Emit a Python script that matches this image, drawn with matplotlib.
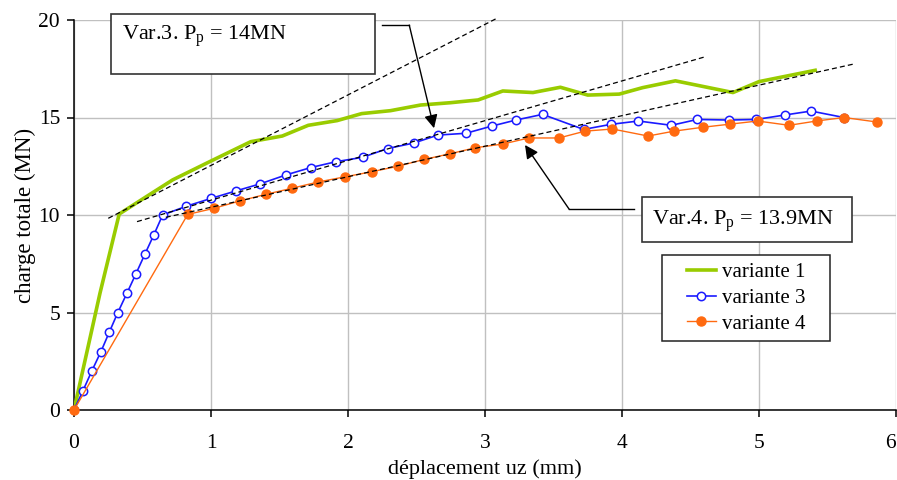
import matplotlib
matplotlib.use("Agg")
import matplotlib.pyplot as plt
from matplotlib.patches import Rectangle

plt.rcParams["font.family"] = ["Liberation Serif", "DejaVu Serif"]
plt.rcParams["mathtext.fontset"] = "custom"
plt.rcParams["mathtext.rm"] = "Liberation Serif"
plt.rcParams["mathtext.it"] = "Liberation Serif"

# variante 1
disp_v1 = [0, 0.19, 0.33, 0.53, 0.72, 0.98, 1.29, 1.52, 1.71, 1.92, 2.10, 2.31,
           2.53, 2.75, 2.95, 3.13, 3.35, 3.55, 3.75, 3.98, 4.15, 4.39, 4.81,
           5.0, 5.41]
load_v1 = [0, 6.0, 10.05, 10.95, 11.8, 12.7, 13.76, 14.05, 14.6, 14.84, 15.2,
           15.35, 15.64, 15.76, 15.9, 16.36, 16.28, 16.55, 16.15, 16.2, 16.53,
           16.88, 16.28, 16.84, 17.42]

# variante 3
disp_v3 = [0, 0.066, 0.13, 0.197, 0.258, 0.32, 0.387, 0.453, 0.518, 0.584,
           0.647, 0.82, 1.0, 1.18, 1.36, 1.545, 1.727, 1.91, 2.107, 2.29, 2.48,
           2.657, 2.86, 3.05, 3.226, 3.42, 3.72, 3.92, 4.12, 4.36, 4.55, 4.78,
           4.98, 5.19, 5.38, 5.62]
load_v3 = [0, 1, 2, 3, 4, 5, 6, 7, 8, 9, 10, 10.45, 10.85, 11.23, 11.6, 12.05,
           12.43, 12.73, 12.96, 13.41, 13.69, 14.1, 14.19, 14.56, 14.87, 15.16,
           14.39, 14.65, 14.82, 14.6, 14.9, 14.87, 14.9, 15.13, 15.33, 15.0]

# variante 4
disp_v4 = [0, 0.83, 1.02, 1.21, 1.40, 1.59, 1.78, 1.98, 2.175, 2.365, 2.555,
           2.745, 2.93, 3.13, 3.32, 3.54, 3.73, 3.93, 4.19, 4.38, 4.59, 4.79,
           4.99, 5.22, 5.42, 5.62, 5.86]
load_v4 = [0, 10.03, 10.34, 10.72, 11.06, 11.37, 11.69, 11.96, 12.22, 12.5,
           12.85, 13.14, 13.45, 13.64, 13.95, 13.95, 14.3, 14.41, 14.05, 14.3,
           14.5, 14.66, 14.82, 14.6, 14.82, 15.0, 14.77]

# tangent lines (start/end)
tangent_x = [[0.25, 3.09], [0.46, 4.6], [0.67, 5.69]]
tangent_y = [[9.83, 20.1], [9.66, 18.1], [9.88, 17.74]]

series_labels = ["variante 1", "variante 3", "variante 4"]
x_ticks = [0, 1, 2, 3, 4, 5, 6]
y_ticks = [0, 5, 10, 15, 20]
label_v3 = r"Var.3. P$_\mathregular{p}$ = 14MN"
label_v4 = r"Var.4. P$_\mathregular{p}$ = 13.9MN"

fig = plt.figure(figsize=(8.97, 4.8), dpi=100)
ax = fig.add_axes([74 / 897, 70 / 480, 822 / 897, 390 / 480])

ax.set_xlim(0, 6)
ax.set_ylim(0, 20)
ax.set_xticks(x_ticks)
ax.set_yticks(y_ticks)
ax.grid(True, color="#c0c0c0", linewidth=1)
ax.set_axisbelow(True)
for side in ["top", "right"]:
    ax.spines[side].set_visible(False)
for side in ["left", "bottom"]:
    ax.spines[side].set_linewidth(1.1)
ax.tick_params(axis="both", direction="out", length=5, width=1.1, labelsize=15.5)
ax.tick_params(axis="x", pad=12)
ax.tick_params(axis="y", pad=5)
# keep the last x label inside the figure
ax.get_xticklabels()[-1].set_horizontalalignment("right")

for tx, ty in zip(tangent_x, tangent_y):
    ax.plot(tx, ty, color="black", lw=0.9, linestyle=(0, (4, 2.5)), zorder=4,
            clip_on=False)

ax.plot(disp_v1, load_v1, color="#99cc00", lw=2.6, label=series_labels[0],
        zorder=3)
ax.plot(disp_v3, load_v3, color="#1a1aff", lw=1.2, marker="o",
        markersize=6, markerfacecolor="white", markeredgecolor="#1a1aff",
        markeredgewidth=1.1, label=series_labels[1], zorder=3)
ax.plot(disp_v4, load_v4, color="#ff6a10", lw=1.0, marker="o",
        markersize=6.5, markerfacecolor="#ff6a10", markeredgecolor="#ff6a10",
        label=series_labels[2], zorder=3, clip_on=False)

ax.set_xlabel("déplacement uz (mm)", fontsize=16, labelpad=5)
ax.set_ylabel("charge totale (MN)", fontsize=16.5, labelpad=2)

# annotation boxes
ax.add_patch(Rectangle((0.27, 17.23), 1.93, 3.08, facecolor="white",
                       edgecolor="#333333", lw=1.2, clip_on=False, zorder=5))
ax.text(0.348, 18.97, label_v3, fontsize=16, va="baseline", ha="left",
        zorder=6)
ax.add_patch(Rectangle((4.144, 8.63), 1.533, 2.28, facecolor="white",
                       edgecolor="#333333", lw=1.2, clip_on=False, zorder=5))
ax.text(4.217, 9.49, label_v4, fontsize=16, va="baseline", ha="left",
        zorder=6)

# arrows
arrow_kw = dict(arrowstyle="-|>", color="black", lw=1.0, mutation_scale=20,
                shrinkA=0, shrinkB=0)
ax.plot([2.246, 2.447], [19.74, 19.74], color="black", lw=1.0, zorder=6)
ax.annotate("", xy=(2.628, 14.45), xytext=(2.447, 19.74), arrowprops=arrow_kw,
            zorder=6)
ax.plot([4.088, 3.615], [10.29, 10.29], color="black", lw=1.0, zorder=6)
ax.annotate("", xy=(3.292, 13.59), xytext=(3.615, 10.29), arrowprops=arrow_kw,
            zorder=6)

# legend with its own frame
ax.add_patch(Rectangle((0.715, 0.177), 0.205, 0.22, transform=ax.transAxes,
                       facecolor="white", edgecolor="#222222", lw=1.1,
                       zorder=5))
leg = ax.legend(loc="center", bbox_to_anchor=(0.8175, 0.287), frameon=False,
                fontsize=15, handlelength=1.4, handletextpad=0.3,
                labelspacing=0.3, borderpad=0.2)
leg.set_zorder(6)

fig.savefig("out.png", dpi=100)
